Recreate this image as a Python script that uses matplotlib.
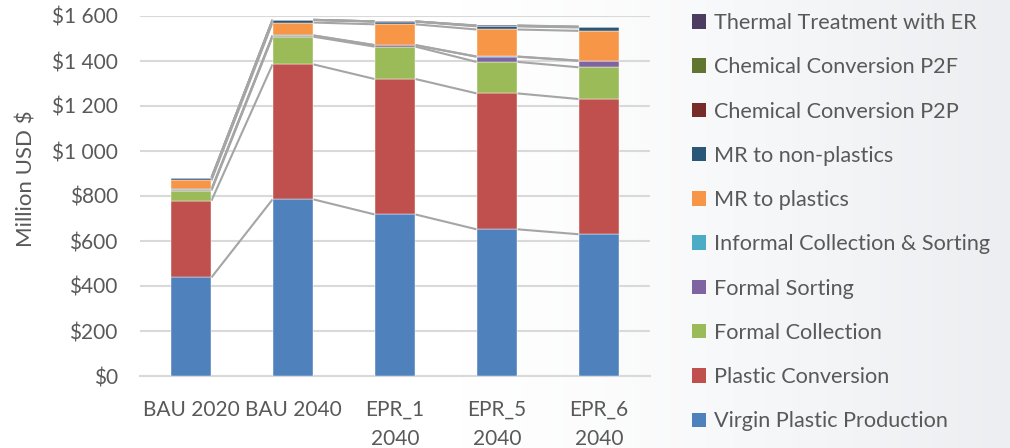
import numpy as np
import matplotlib
matplotlib.use("Agg")
import matplotlib.pyplot as plt
from matplotlib.patches import Patch
from matplotlib.ticker import FuncFormatter

# Scenarios on the x axis
scenarios = ["BAU 2020", "BAU 2040", "EPR_1\n2040", "EPR_5\n2040", "EPR_6\n2040"]

# Cost components (million USD), stacked bottom to top
virgin_plastic_production = [438, 785, 718, 652, 630]
plastic_conversion        = [341, 600, 602, 604, 601]
formal_collection         = [45, 123, 144, 140, 141]
formal_sorting            = [4, 5, 6, 23, 29]
informal_collection       = [1, 1, 1, 1, 1]
mr_to_plastics            = [40, 57, 92, 120, 132]
mr_to_non_plastics        = [10, 11, 12, 14, 15]
chemical_p2p              = [1, 1, 1, 2, 2]
chemical_p2f              = [0, 0, 0, 1, 1]
thermal_er                = [0, 0, 0, 1, 1]

series = [
    ("Virgin Plastic Production", virgin_plastic_production, "#4F81BD"),
    ("Plastic Conversion", plastic_conversion, "#C0504D"),
    ("Formal Collection", formal_collection, "#9BBB59"),
    ("Formal Sorting", formal_sorting, "#8064A2"),
    ("Informal Collection & Sorting", informal_collection, "#4BACC6"),
    ("MR to plastics", mr_to_plastics, "#F79646"),
    ("MR to non-plastics", mr_to_non_plastics, "#2A5678"),
    ("Chemical Conversion P2P", chemical_p2p, "#772C2A"),
    ("Chemical Conversion P2F", chemical_p2f, "#5F7530"),
    ("Thermal Treatment with ER", thermal_er, "#4D3B62"),
]

plt.rcParams["font.family"] = ["Lato", "DejaVu Sans"]
text_color = "#595959"

fig = plt.figure(figsize=(10.10, 4.48), dpi=100)

# soft grey wash towards the right-hand side of the canvas
bg = fig.add_axes([0, 0, 1, 1], zorder=-10)
gx = np.linspace(0, 1, 256)
grad = np.clip((gx - 0.45) / 0.55, 0, 1) ** 1.3
bg.imshow(np.tile(grad, (2, 1)), cmap=matplotlib.colors.LinearSegmentedColormap.from_list(
    "wash", ["#FFFFFF", "#ECEEF1"]), aspect="auto", extent=[0, 1, 0, 1], vmin=0, vmax=1)
bg.set_axis_off()

ax = fig.add_axes([140 / 1010, 72 / 448, 510 / 1010, 360 / 448])
ax.patch.set_alpha(0)

x = np.arange(len(scenarios))
width = 0.4
bottom = np.zeros(len(scenarios))
tops = []
for name, vals, color in series:
    vals = np.asarray(vals, dtype=float)
    ax.bar(x, vals, width, bottom=bottom, color=color, label=name,
           edgecolor="white", linewidth=0.3, zorder=3)
    bottom = bottom + vals
    tops.append(bottom.copy())

# series lines joining each stacked segment between neighbouring bars
for top in tops:
    for i in range(len(x) - 1):
        ax.plot([x[i] + width / 2, x[i + 1] - width / 2], [top[i], top[i + 1]],
                color="#A5A5A5", linewidth=1.5, zorder=2, solid_capstyle="butt")

ax.set_xlim(-0.5, len(x) - 0.5)
ax.set_ylim(0, 1600)
ax.set_yticks(np.arange(0, 1601, 200))
ax.yaxis.set_major_formatter(FuncFormatter(
    lambda v, p: "$" + f"{int(v):,}".replace(",", " ")))
ax.grid(axis="y", color="#D9D9D9", linewidth=1.5, zorder=0)
ax.set_axisbelow(True)
for side in ["top", "right", "left"]:
    ax.spines[side].set_visible(False)
ax.spines["bottom"].set_color("#D9D9D9")
ax.spines["bottom"].set_linewidth(1.5)
ax.tick_params(axis="both", length=0, labelsize=15, colors=text_color)
ax.tick_params(axis="y", pad=16)
ax.tick_params(axis="x", pad=17)
ax.set_xticks(x)
ax.set_xticklabels(scenarios, linespacing=1.6)
ax.set_ylabel("Million USD $", fontsize=16, color=text_color)
ax.yaxis.set_label_coords(-0.202, 0.547)

handles = [Patch(facecolor=c, edgecolor="none") for _, _, c in series][::-1]
labels = [n for n, _, _ in series][::-1]
fig.legend(handles, labels, loc="upper left", bbox_to_anchor=(692 / 1010, 1 - 13 / 448),
           frameon=False, fontsize=15.6, labelcolor=text_color,
           handlelength=0.65, handleheight=0.65, handletextpad=0.35,
           labelspacing=1.12, borderaxespad=0, borderpad=0)

fig.savefig("out.png", dpi=100)
